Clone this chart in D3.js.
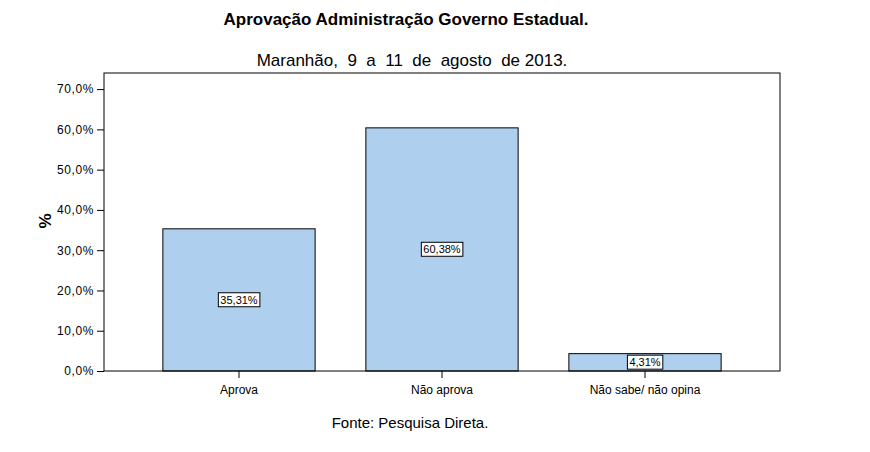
<!DOCTYPE html>
<html>
<head>
<meta charset="utf-8">
<script src="https://cdn.jsdelivr.net/npm/d3@7"></script>
<style>
  body { margin: 0; background: #fff; }
  text { font-family: "Liberation Sans", Arial, sans-serif; fill: #000; }
</style>
</head>
<body>
<div id="chart"></div>
<script>
// Chart values
const categories = ["Aprova", "Não aprova", "Não sabe/ não opina"];
const values = [35.31, 60.38, 4.31];
const yTicks = [0, 10, 20, 30, 40, 50, 60, 70];

const w = 870;
const h = 452;
const plotLeft = 104, plotRight = 780, plotTop = 73, plotBottom = 371;

const svg = d3.select("#chart").append("svg")
  .attr("width", w)
  .attr("height", h);

const xScale = d3.scaleBand()
  .domain(categories)
  .range([plotLeft, plotRight])
  .paddingInner(0.25)
  .paddingOuter(0.29);

const yScale = d3.scaleLinear()
  .domain([0, 74])
  .range([plotBottom, plotTop]);

const fmt = v => v.toFixed(1).replace(".", ",") + "%";
const fmt2 = v => v.toFixed(2).replace(".", ",") + "%";

// bars
svg.selectAll("rect.bar")
  .data(values)
  .enter()
  .append("rect")
  .attr("class", "bar")
  .attr("x", (d, i) => xScale(categories[i]))
  .attr("y", d => yScale(d))
  .attr("width", xScale.bandwidth())
  .attr("height", d => plotBottom - yScale(d))
  .attr("fill", "#aecfee")
  .attr("stroke", "#000")
  .attr("stroke-width", 1);

// frame
svg.append("rect")
  .attr("x", plotLeft)
  .attr("y", plotTop)
  .attr("width", plotRight - plotLeft)
  .attr("height", plotBottom - plotTop)
  .attr("fill", "none")
  .attr("stroke", "#000")
  .attr("stroke-width", 1);

// axes
const yAxis = svg.append("g")
  .attr("transform", `translate(${plotLeft},0)`)
  .call(d3.axisLeft(yScale).tickValues(yTicks).tickFormat(fmt).tickSize(7).tickSizeOuter(0));
yAxis.select(".domain").remove();
yAxis.selectAll("text")
  .style("font-size", "12px")
  .style("letter-spacing", "0.6px")
  .attr("dx", "0");

const xAxis = svg.append("g")
  .attr("transform", `translate(0,${plotBottom})`)
  .call(d3.axisBottom(xScale).tickSize(7).tickSizeOuter(0));
xAxis.select(".domain").remove();
xAxis.selectAll("text").style("font-size", "12px").attr("dy", "1.05em");

// value labels in the middle of each bar
const labels = svg.selectAll("g.lab")
  .data(values)
  .enter()
  .append("g")
  .attr("class", "lab")
  .attr("transform", (d, i) => `translate(${xScale(categories[i]) + xScale.bandwidth() / 2},${(yScale(d) + plotBottom) / 2})`);

labels.append("text")
  .attr("text-anchor", "middle")
  .attr("dy", "0.35em")
  .style("font-size", "11px")
  .text(d => fmt2(d));

labels.each(function () {
  const g = d3.select(this);
  const b = g.select("text").node().getBBox();
  g.insert("rect", "text")
    .attr("x", b.x - 2)
    .attr("y", b.y - 1)
    .attr("width", b.width + 4)
    .attr("height", b.height + 2)
    .attr("fill", "#fff")
    .attr("stroke", "#000");
});

// titles
svg.append("text")
  .attr("x", 406)
  .attr("y", 25)
  .attr("text-anchor", "middle")
  .style("font-size", "17px")
  .style("font-weight", "bold")
  .text("Aprovação Administração Governo Estadual.");

svg.append("text")
  .attr("x", 412)
  .attr("y", 66)
  .attr("text-anchor", "middle")
  .style("font-size", "17px")
  .style("white-space", "pre")
  .text("Maranhão,  9  a  11  de  agosto  de 2013.");

svg.append("text")
  .attr("transform", "translate(51,221) rotate(-90)")
  .attr("text-anchor", "middle")
  .style("font-size", "17px")
  .style("font-weight", "bold")
  .text("%");

svg.append("text")
  .attr("x", 410)
  .attr("y", 428)
  .attr("text-anchor", "middle")
  .style("font-size", "15px")
  .text("Fonte: Pesquisa Direta.");
</script>
</body>
</html>
